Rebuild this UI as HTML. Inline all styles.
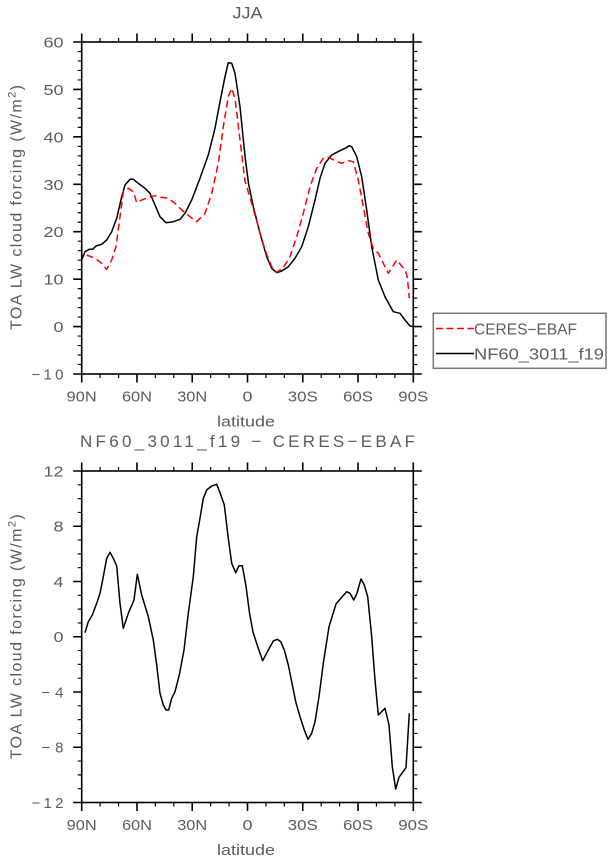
<!DOCTYPE html>
<html><head><meta charset="utf-8"><style>
html,body{margin:0;padding:0;background:#fff;}
svg{display:block;}
text{font-family:"Liberation Sans",sans-serif;fill:#5c5c5c;}
</style></head><body>
<svg width="612" height="862" viewBox="0 0 612 862" xmlns="http://www.w3.org/2000/svg">
<!-- ===== TOP PLOT ===== -->
<text x="247.5" y="18.5" font-size="17" text-anchor="middle" textLength="30" lengthAdjust="spacingAndGlyphs">JJA</text>
<g stroke="#000" stroke-width="1.6" fill="none">
<rect x="81.7" y="42" width="331.6" height="332"/>
<path d="M81.7 42v-8.5M136.97 42v-8.5M192.23 42v-8.5M247.5 42v-8.5M302.77 42v-8.5M358.03 42v-8.5M413.3 42v-8.5
M81.7 374v8.5M136.97 374v8.5M192.23 374v8.5M247.5 374v8.5M302.77 374v8.5M358.03 374v8.5M413.3 374v8.5"/>
<path stroke-width="1.2" d="M100.12 42v-4M118.54 42v-4M155.39 42v-4M173.81 42v-4M210.66 42v-4M229.08 42v-4M265.92 42v-4M284.34 42v-4M321.19 42v-4M339.61 42v-4M376.46 42v-4M394.88 42v-4
M100.12 374v4M118.54 374v4M155.39 374v4M173.81 374v4M210.66 374v4M229.08 374v4M265.92 374v4M284.34 374v4M321.19 374v4M339.61 374v4M376.46 374v4M394.88 374v4"/>
<path d="M81.7 374h-8.5M81.7 326.57h-8.5M81.7 279.14h-8.5M81.7 231.71h-8.5M81.7 184.29h-8.5M81.7 136.86h-8.5M81.7 89.43h-8.5M81.7 42h-8.5
M413.3 374h8.5M413.3 326.57h8.5M413.3 279.14h8.5M413.3 231.71h8.5M413.3 184.29h8.5M413.3 136.86h8.5M413.3 89.43h8.5M413.3 42h8.5"/>
<path stroke-width="1.2" d="M81.7 364.51h-4M81.7 355.03h-4M81.7 345.54h-4M81.7 336.06h-4M81.7 317.08h-4M81.7 307.6h-4M81.7 298.11h-4M81.7 288.63h-4M81.7 269.65h-4M81.7 260.17h-4M81.7 250.68h-4M81.7 241.2h-4M81.7 222.22h-4M81.7 212.74h-4M81.7 203.25h-4M81.7 193.77h-4M81.7 174.79h-4M81.7 165.31h-4M81.7 155.82h-4M81.7 146.34h-4M81.7 127.36h-4M81.7 117.88h-4M81.7 108.39h-4M81.7 98.91h-4M81.7 79.93h-4M81.7 70.45h-4M81.7 60.96h-4M81.7 51.48h-4
M413.3 364.51h4M413.3 355.03h4M413.3 345.54h4M413.3 336.06h4M413.3 317.08h4M413.3 307.6h4M413.3 298.11h4M413.3 288.63h4M413.3 269.65h4M413.3 260.17h4M413.3 250.68h4M413.3 241.2h4M413.3 222.22h4M413.3 212.74h4M413.3 203.25h4M413.3 193.77h4M413.3 174.79h4M413.3 165.31h4M413.3 155.82h4M413.3 146.34h4M413.3 127.36h4M413.3 117.88h4M413.3 108.39h4M413.3 98.91h4M413.3 79.93h4M413.3 70.45h4M413.3 60.96h4M413.3 51.48h4"/>
</g>
<g font-size="15" text-anchor="end">
<text x="63.5" y="47.5" textLength="20" lengthAdjust="spacingAndGlyphs">60</text>
<text x="63.5" y="94.9" textLength="20" lengthAdjust="spacingAndGlyphs">50</text>
<text x="63.5" y="142.4" textLength="20" lengthAdjust="spacingAndGlyphs">40</text>
<text x="63.5" y="189.8" textLength="20" lengthAdjust="spacingAndGlyphs">30</text>
<text x="63.5" y="237.2" textLength="20" lengthAdjust="spacingAndGlyphs">20</text>
<text x="63.5" y="284.6" textLength="20" lengthAdjust="spacingAndGlyphs">10</text>
<text x="63.5" y="332.1" textLength="10" lengthAdjust="spacingAndGlyphs">0</text>
<text x="63.5" y="379.5" textLength="32" lengthAdjust="spacing">−10</text>
</g>
<g font-size="15" text-anchor="middle">
<text x="81.7" y="401.5" textLength="30" lengthAdjust="spacingAndGlyphs">90N</text>
<text x="136.97" y="401.5" textLength="30" lengthAdjust="spacingAndGlyphs">60N</text>
<text x="192.23" y="401.5" textLength="30" lengthAdjust="spacingAndGlyphs">30N</text>
<text x="247.5" y="401.5" textLength="10" lengthAdjust="spacingAndGlyphs">0</text>
<text x="302.77" y="401.5" textLength="30" lengthAdjust="spacingAndGlyphs">30S</text>
<text x="358.03" y="401.5" textLength="30" lengthAdjust="spacingAndGlyphs">60S</text>
<text x="413.3" y="401.5" textLength="30" lengthAdjust="spacingAndGlyphs">90S</text>
</g>
<text x="246" y="426.5" font-size="15" text-anchor="middle" textLength="58" lengthAdjust="spacingAndGlyphs">latitude</text>
<text transform="translate(21.5,207.5) rotate(-90)" font-size="16" text-anchor="middle" textLength="245" lengthAdjust="spacing">TOA LW cloud forcing (W/m<tspan font-size="11" dy="-6">2</tspan><tspan dy="6">)</tspan></text>

<polyline fill="none" stroke="#000" stroke-width="1.5" stroke-linejoin="round" points="81.7,260 85,251.7 89.3,249.3 92.7,249.3 96,246 101.7,244.3 106.7,240 111.7,231.7 116.7,218.3 121.7,196.7 125,185 130,179.3 133.3,179.3 138.3,183.3 145,188.3 150,193.3 155,205 160,216.7 166,222.7 173.3,221.7 180,219.3 185,213.3 191.7,200 200,178.3 208.3,155 215,128.3 220,101.7 225,76.7 228.3,62.7 231.7,63.3 235,73.3 240,106.7 245,156 248.5,183.5 253.3,206.7 260,233.3 266.7,256.7 271.7,268.3 276.7,272.7 281.7,271 288.3,266.7 295,258.3 301.7,246.7 308.3,226.7 315,200 320,178.3 325,163.3 331.7,155 340,150.7 345,148.3 349.3,145.7 351.7,146.7 356.7,156.7 361.7,176.7 366.7,210 371.7,246.7 378.3,280 385,296.7 393.3,311.7 400,313.3 405,320 410,326 413.3,326.6"/>
<polyline fill="none" stroke="#ff0000" stroke-width="1.5" stroke-dasharray="7,4" stroke-linejoin="round" points="86.7,255 95,258.3 101.7,263.3 106.7,269.3 111.7,260 116,246.7 120,216.7 123.3,191.7 128.3,188.3 133.3,191.7 136.7,202.7 141.7,200 148.3,197.3 155,195.7 161.7,197.3 168.3,198.3 175,203.3 181.7,210 190,216.7 196.7,221.7 205,213.3 211.7,193.3 218.3,163.3 223.3,126.7 228.3,96.7 231.7,88.3 235,98.3 240,140 245,181 251.7,203.3 258.3,226.7 265,250 271.7,266.7 276.7,272.3 283.3,267.7 290,256.7 296.7,236.7 303.3,213.3 310,186.7 316.7,168.3 323.3,158.3 328.3,157.3 335,160.7 341.7,163.3 348.3,160.7 353.3,161.7 358.3,180 363.3,206.7 368.3,233.3 373.3,248.3 378.3,253.3 383.3,263.3 388.3,273.3 396.7,260 405,270 407.3,276.7 409.3,298.3"/>

<rect x="433.3" y="313.3" width="172.7" height="55" fill="#fff" stroke="#777" stroke-width="1.5"/>
<line x1="436" y1="328.5" x2="474" y2="328.5" stroke="#ff0000" stroke-width="1.5" stroke-dasharray="7,3.5"/>
<line x1="436" y1="353.5" x2="474" y2="353.5" stroke="#000" stroke-width="1.5"/>
<text x="474" y="334.5" font-size="15.5" textLength="103" lengthAdjust="spacingAndGlyphs">CERES−EBAF</text>
<text x="474" y="359.5" font-size="15.5" textLength="130" lengthAdjust="spacingAndGlyphs">NF60_3011_f19</text>

<!-- ===== BOTTOM PLOT ===== -->
<text x="247.5" y="447" font-size="17" text-anchor="middle" textLength="335" lengthAdjust="spacing">NF60_3011_f19 − CERES−EBAF</text>
<g stroke="#000" stroke-width="1.6" fill="none">
<rect x="81.7" y="471" width="331.6" height="331.5"/>
<path d="M81.7 471v-8.5M136.97 471v-8.5M192.23 471v-8.5M247.5 471v-8.5M302.77 471v-8.5M358.03 471v-8.5M413.3 471v-8.5
M81.7 802.5v8.5M136.97 802.5v8.5M192.23 802.5v8.5M247.5 802.5v8.5M302.77 802.5v8.5M358.03 802.5v8.5M413.3 802.5v8.5"/>
<path stroke-width="1.2" d="M100.12 471v-4M118.54 471v-4M155.39 471v-4M173.81 471v-4M210.66 471v-4M229.08 471v-4M265.92 471v-4M284.34 471v-4M321.19 471v-4M339.61 471v-4M376.46 471v-4M394.88 471v-4
M100.12 802.5v4M118.54 802.5v4M155.39 802.5v4M173.81 802.5v4M210.66 802.5v4M229.08 802.5v4M265.92 802.5v4M284.34 802.5v4M321.19 802.5v4M339.61 802.5v4M376.46 802.5v4M394.88 802.5v4"/>
<path d="M81.7 802.5h-8.5M81.7 747.25h-8.5M81.7 692h-8.5M81.7 636.75h-8.5M81.7 581.5h-8.5M81.7 526.25h-8.5M81.7 471h-8.5
M413.3 802.5h8.5M413.3 747.25h8.5M413.3 692h8.5M413.3 636.75h8.5M413.3 581.5h8.5M413.3 526.25h8.5M413.3 471h8.5"/>
<path stroke-width="1.2" d="M81.7 788.69h-4M81.7 774.88h-4M81.7 761.06h-4M81.7 733.44h-4M81.7 719.63h-4M81.7 705.81h-4M81.7 678.19h-4M81.7 664.38h-4M81.7 650.56h-4M81.7 622.94h-4M81.7 609.13h-4M81.7 595.31h-4M81.7 567.69h-4M81.7 553.88h-4M81.7 540.06h-4M81.7 512.44h-4M81.7 498.63h-4M81.7 484.81h-4
M413.3 788.69h4M413.3 774.88h4M413.3 761.06h4M413.3 733.44h4M413.3 719.63h4M413.3 705.81h4M413.3 678.19h4M413.3 664.38h4M413.3 650.56h4M413.3 622.94h4M413.3 609.13h4M413.3 595.31h4M413.3 567.69h4M413.3 553.88h4M413.3 540.06h4M413.3 512.44h4M413.3 498.63h4M413.3 484.81h4"/>
</g>
<g font-size="15" text-anchor="end">
<text x="63.5" y="476.5" textLength="20" lengthAdjust="spacingAndGlyphs">12</text>
<text x="63.5" y="531.7" textLength="10" lengthAdjust="spacingAndGlyphs">8</text>
<text x="63.5" y="587" textLength="10" lengthAdjust="spacingAndGlyphs">4</text>
<text x="63.5" y="642.2" textLength="10" lengthAdjust="spacingAndGlyphs">0</text>
<text x="63.5" y="697.5" textLength="22" lengthAdjust="spacing">−4</text>
<text x="63.5" y="752.7" textLength="22" lengthAdjust="spacing">−8</text>
<text x="63.5" y="808" textLength="32" lengthAdjust="spacing">−12</text>
</g>
<g font-size="15" text-anchor="middle">
<text x="81.7" y="830" textLength="30" lengthAdjust="spacingAndGlyphs">90N</text>
<text x="136.97" y="830" textLength="30" lengthAdjust="spacingAndGlyphs">60N</text>
<text x="192.23" y="830" textLength="30" lengthAdjust="spacingAndGlyphs">30N</text>
<text x="247.5" y="830" textLength="10" lengthAdjust="spacingAndGlyphs">0</text>
<text x="302.77" y="830" textLength="30" lengthAdjust="spacingAndGlyphs">30S</text>
<text x="358.03" y="830" textLength="30" lengthAdjust="spacingAndGlyphs">60S</text>
<text x="413.3" y="830" textLength="30" lengthAdjust="spacingAndGlyphs">90S</text>
</g>
<text x="246" y="855" font-size="15" text-anchor="middle" textLength="58" lengthAdjust="spacingAndGlyphs">latitude</text>
<text transform="translate(21.5,636.75) rotate(-90)" font-size="16" text-anchor="middle" textLength="245" lengthAdjust="spacing">TOA LW cloud forcing (W/m<tspan font-size="11" dy="-6">2</tspan><tspan dy="6">)</tspan></text>

<polyline fill="none" stroke="#000" stroke-width="1.5" stroke-linejoin="round" points="85,632.7 88.3,621.7 92.3,615 96.7,603.3 100,593.3 103.3,576.7 106.7,558.3 110,552.3 113.3,558.3 116.7,566 120,603.3 123.3,628.3 128.3,613.3 134,600 137.3,574.3 141.7,595 148.3,616.7 153.3,640 156.7,665 160,693.3 163.3,705 166,710 168.7,710 171.7,698.3 175,691.7 179.3,675 184,650 188.3,613.3 193.3,576.7 196.7,536.7 200,518.3 203.3,498.3 206.7,490 211.7,486 216.7,484.3 220,492.7 224.3,505 228.3,538.3 231.7,563.3 235.7,572.7 239,565.7 242.3,565.7 246,586 249.5,613 253,632 257.5,646 262.7,660.7 268.3,650 273.3,641 277.3,639.3 280.7,641.7 284.3,650 288.3,665 291.7,681.7 295.7,701.7 300,716.7 304.3,730 308,739.3 311.7,733.3 315,721.7 319,696.7 323.3,663.3 329,626.7 336,604 341.7,597.3 346.7,591.7 350,593.3 353.7,600 356.7,594 361,579 364.3,585 367.7,596.7 371.7,636.7 375,680 378.3,715 385,708.3 389,725 392.3,766.7 395.7,789 399,777.3 406,767.7 409.3,713.3"/>
</svg>
</body></html>
